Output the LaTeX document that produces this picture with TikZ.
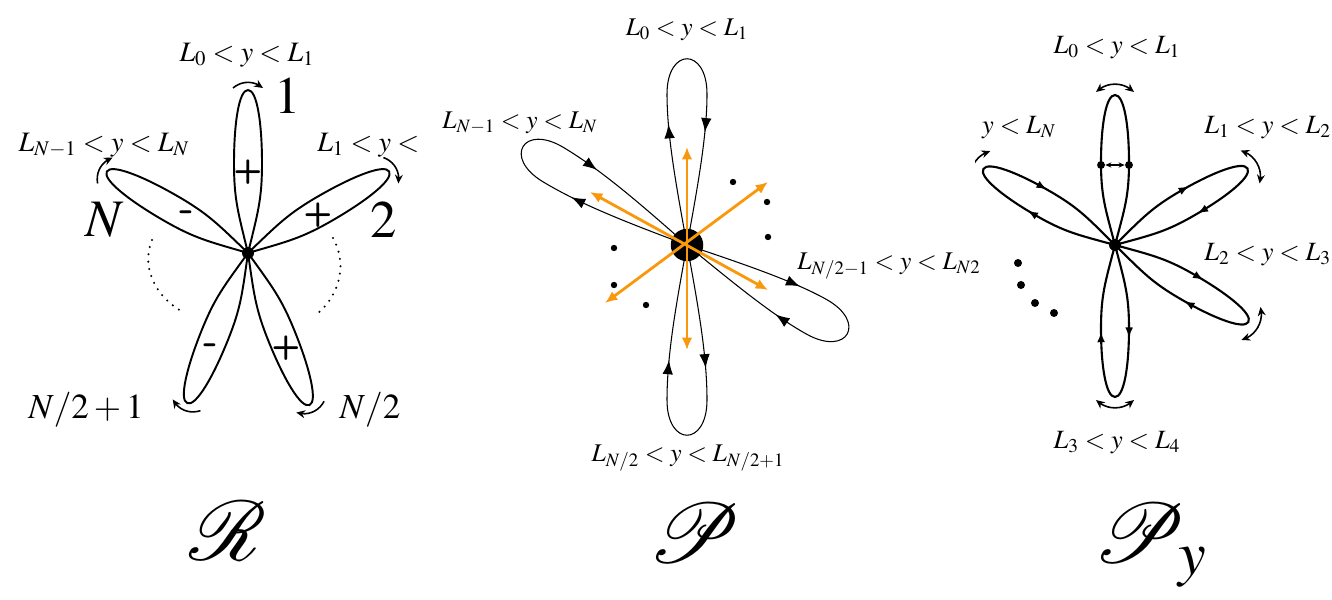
\documentclass[tikz,border=0pt]{standalone}
\usepackage{mathptmx}
\usepackage{mathrsfs}
\usetikzlibrary{arrows.meta, bending, decorations.markings}

% rsfs at any size
\DeclareFontFamily{U}{rsfs}{\skewchar\font127 }
\DeclareFontShape{U}{rsfs}{m}{n}{<-> rsfs10}{}

\definecolor{orangeArr}{RGB}{250,152,12}

\begin{document}
\begin{tikzpicture}[
    x=0.02cm, y=0.02cm,
    % left picture: petals, turning arrows, signs
    petalR/.style={line width=1.1pt},
    turnR/.style={line width=0.9pt, -{Stealth[length=5pt,width=4.5pt]}},
    signR/.style={inner sep=0pt, font=\fontsize{19}{20}\sffamily\bfseries\selectfont},
    bigR/.style={inner sep=0pt, font=\fontsize{30}{32}\selectfont},
    midR/.style={inner sep=0pt, font=\fontsize{20}{22}\selectfont},
    lblR/.style={inner sep=0pt, font=\fontsize{16}{18}\selectfont},
    % middle picture: loops and orange arrows
    loopP/.style={line width=0.6pt, postaction={decorate}, decoration={markings,
        mark=at position 0.31 with {\arrow{Latex[length=8pt,width=6pt]}},
        mark=at position 0.71 with {\arrow{Latex[length=8pt,width=6pt]}}}},
    orangeP/.style={line width=1.6pt, draw=orangeArr,
        {Latex[length=7pt,width=6pt]}-{Latex[length=7pt,width=6pt]}},
    lblP/.style={inner sep=0pt, font=\fontsize{14.5}{16}\selectfont},
    % right picture
    petalPy/.style={line width=1.2pt},
    petalPyArr/.style={petalPy, postaction={decorate}, decoration={markings,
        mark=at position 0.30 with {\arrow{Latex[length=6pt,width=4.5pt]}},
        mark=at position 0.72 with {\arrow{Latex[length=6pt,width=4.5pt]}}}},
    turnPy/.style={line width=0.9pt, {Stealth[length=5pt,width=4.5pt]}-{Stealth[length=5pt,width=4.5pt]}},
    dotPy/.style={circle, fill, inner sep=0pt, minimum size=4.5pt},
    lblPy/.style={inner sep=0pt, font=\fontsize{15}{17}\selectfont},
    scr/.style={inner sep=0pt, font=\fontsize{48}{50}\selectfont}
]
    \useasboundingbox (0,0) rectangle (1332,599);

    % ===== R =====
    \coordinate (c1) at (248,346);
    \foreach \ang/\len in {90/163,30/163,150/163,-68/164,-112/162}{
        \draw[petalR, shift={(c1)}, rotate=\ang] (0,0) .. controls ({0.25*\len},10) and ({0.33*\len},14) .. ({0.55*\len},14)
            .. controls ({0.8*\len},14) and (\len,9) .. (\len,0) .. controls (\len,-9) and ({0.8*\len},-14) .. ({0.55*\len},-14)
            .. controls ({0.33*\len},-14) and ({0.25*\len},-10) .. (0,0);
        \draw[turnR, shift={(c1)}, rotate=\ang] ({\len+2},15) to[bend left=40] ({\len+2},-15);
    }
    \fill (c1) circle (6);

    \draw[line width=1.3pt, dash pattern=on 0pt off 4.2pt, line cap=round]
        (152,359) .. controls (140,330) and (158,300) .. (183,287);
    \draw[line width=1.3pt, dash pattern=on 0pt off 4.2pt, line cap=round]
        (333,361) .. controls (350,330) and (335,300) .. (318,286);

    \node[signR] (s1) at (248,427) {+};
    \node[signR] (s2) at (318,384) {+};
    \node[signR, font=\fontsize{23}{24}\sffamily\bfseries\selectfont] (sN) at (187,383) {-};
    \node[signR, font=\fontsize{23}{24}\sffamily\bfseries\selectfont] (sN2a) at (211,250) {-};
    \node[signR] (sN2) at (286,251) {+};

    \node[bigR] (n1) at (288,503) {$1$};
    \node[bigR] (n2) at (384,379) {$2$};
    \node[bigR] (nN) at (105,379) {$N$};
    \node[midR] (nN2a) at (86,189) {$N/2+1$};
    \node[midR] (nN2) at (370,189) {$N/2$};

    \node[lblR] (r0) at (247,544) {$L_0<y<L_1$};
    \node[lblR] (rN) at (104,454) {$L_{N-1}<y<L_N$};
    \node[lblR, anchor=west] (r1) at (317,454) {$L_1<y<$};

    \node[scr, anchor=base] (scrR) at (228,39) {$\mathscr{R}$};

    % ===== P =====
    \coordinate (c2) at (687,354);
    \foreach \ang/\len in {90/186,-90/190,149/191,-29/183}{
        \draw[loopP, shift={(c2)}, rotate=\ang] (0,0) .. controls (60,11) and (110,20) .. ({\len-35},20)
            .. controls ({\len+12},20) and ({\len+12},-20) .. ({\len-35},-20)
            .. controls (110,-20) and (60,-11) .. (0,0);
    }
    \node[circle, fill, inner sep=0pt, minimum size=18.5pt] (ctrP) at (c2) {};

    \coordinate (oUp) at (687,452);
    \coordinate (oDown) at (687,249);
    \coordinate (oNE) at (768,417);
    \coordinate (oSW) at (605,296);
    \coordinate (oNW) at (590,407);
    \coordinate (oSE) at (768,309);
    \draw[orangeP] (oDown) -- (oUp);
    \draw[orangeP] (oSW) -- (oNE);
    \draw[orangeP] (oNW) -- (oSE);

    \foreach \p in {(733,417),(767,397),(768,362),(614,351),(614,314),(646,294)}
        \fill \p circle (3.2);

    \node[lblP] (p0) at (687,569) {$L_0<y<L_1$};
    \node[lblP] (pN) at (520,476) {$L_{N-1}<y<L_N$};
    \node[lblP, anchor=west] (pN2a) at (797,333) {$L_{N/2-1}<y<L_{N2}$};
    \node[lblP] (pN2) at (688,141) {$L_{N/2}<y<L_{N/2+1}$};

    \node[scr, anchor=base] (scrP) at (695,37) {$\mathscr{P}$};

    % ===== P_y =====
    \coordinate (c3) at (1115,354);
    \begin{scope}
        \clip (975,0) rectangle (1332,599);
        \foreach \ang/\len in {30/153,-30/154,150/152,-90/152}{
            \draw[petalPyArr, shift={(c3)}, rotate=\ang] (0,0) .. controls ({0.25*\len},10) and ({0.33*\len},14) .. ({0.55*\len},14)
                .. controls ({0.8*\len},14) and (\len,9) .. (\len,0) .. controls (\len,-9) and ({0.8*\len},-14) .. ({0.55*\len},-14)
                .. controls ({0.33*\len},-14) and ({0.25*\len},-10) .. (0,0);
        }
        \draw[petalPy, shift={(c3)}, rotate=90] (0,0) .. controls (37.5,10) and (49.5,14) .. (82.5,14)
            .. controls (120,14) and (150,9) .. (150,0) .. controls (150,-9) and (120,-14) .. (82.5,-14)
            .. controls (49.5,-14) and (37.5,-10) .. (0,0);
        \foreach \ang/\len in {90/150,30/153,-30/154,150/152,-90/152}
            \draw[turnPy, shift={(c3)}, rotate=\ang] ({\len+3},19) to[bend left=45] ({\len+3},-19);
        \fill (c3) circle (6);

        \node[dotPy] (dL) at (1101,434) {};
        \node[dotPy] (dR) at (1129,434) {};
        \draw[line width=0.8pt, {Stealth[length=3.5pt,width=3pt]}-{Stealth[length=3.5pt,width=3pt]}] (dL) -- (dR);

        \foreach \p in {(1018,336),(1021,314),(1035,296),(1054,286)}
            \fill \p circle (4);

        \node[lblPy] (q0) at (1117,551) {$L_0<y<L_1$};
        \node[lblPy] (qN) at (1019,471) {$y<L_N$};
        \node[lblPy, anchor=west] (q1) at (1204,471) {$L_1<y<L_2$};
        \node[lblPy, anchor=west] (q2) at (1204,344) {$L_2<y<L_3$};
        \node[lblPy] (q3) at (1117,156) {$L_3<y<L_4$};
    \end{scope}

    \node[scr, anchor=base west] (scrPy) at (1093,37) {$\mathscr{P}_y$};
\end{tikzpicture}
\end{document}
